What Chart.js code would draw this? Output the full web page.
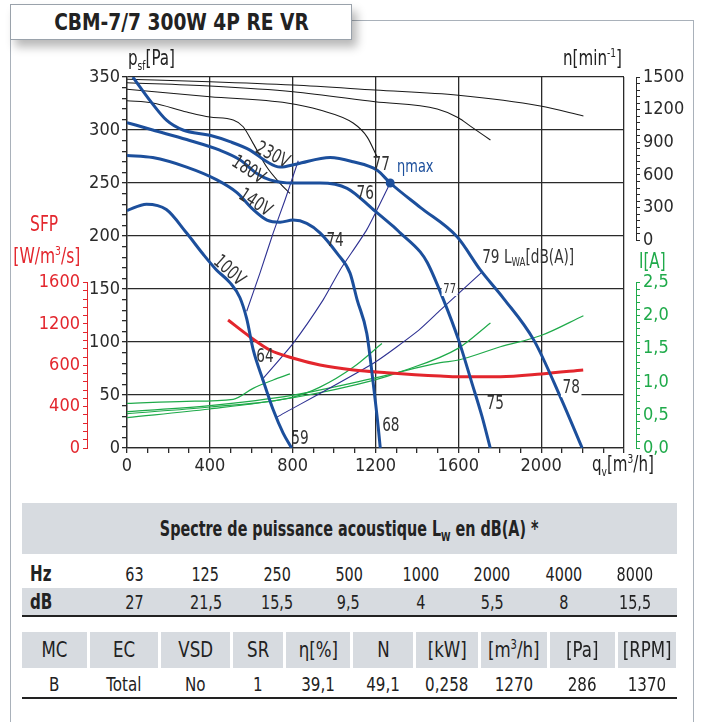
<!DOCTYPE html>
<html>
<head>
<meta charset="utf-8">
<script src="https://cdn.jsdelivr.net/npm/chart.js@4.4.0/dist/chart.umd.min.js"></script>
<style>
  body { margin: 0; background: #fff; width: 701px; height: 722px; overflow: hidden; position: relative;
         font-family: 'DejaVu Sans Condensed', 'Open Sans', sans-serif; color: #222; }
  .abs { position: absolute; white-space: nowrap; line-height: 1; font-size: 21px; }
  .sq { display: inline-block; transform: scaleX(0.8); transform-origin: left center; }
  .sqc { display: inline-block; transform: scaleX(0.82); transform-origin: center center; white-space: nowrap; }
  #frame { position: absolute; left: 10px; top: 20px; width: 682px; height: 760px; border: 1.5px solid #a9b1ba; }
  #title { position: absolute; left: 10px; top: 4px; width: 340px; height: 34px; background: #fff; border: 1px solid #9aa2ab;
           box-shadow: 5px 7px 9px rgba(0,0,0,0.28); font-weight: bold; font-size: 23px; text-align: center; line-height: 34px; }
  #chart { position: absolute; left: 0; top: 0; }
  sub, sup { font-size: 60%; line-height: 0; }
  .band { position: absolute; background: #d7dbe0; }
  .cell { position: absolute; text-align: center; font-size: 20px; line-height: 1; }
</style>
</head>
<body>
<div id="frame"></div>
<div id="title"><span class="sqc" style="transform:scaleX(0.9)">CBM-7/7 300W 4P RE VR</span></div>
<canvas id="chart" width="701" height="490"></canvas>

<div class="abs" style="left:128px;top:48px"><span class="sq">p<sub>sf</sub>[Pa]</span></div>
<div class="abs" style="left:563px;top:48px"><span class="sq">n[min<sup>-1</sup>]</span></div>
<div class="abs" style="left:4px;top:214px;width:80px;text-align:center;color:#e3262d"><span class="sqc">SFP</span></div>
<div class="abs" style="left:4px;top:246px;width:86px;text-align:center;color:#e3262d"><span class="sqc">[W/m<sup>3</sup>/s]</span></div>
<div class="abs" style="left:639px;top:251px;color:#1faa4a"><span class="sq">I[A]</span></div>
<div class="abs" style="left:592px;top:454px"><span class="sq">q<sub>v</sub>[m<sup>3</sup>/h]</span></div>

<div id="tables"></div>

<script>
// fan curves p_sf [Pa] against q_v [m3/h], one per supply voltage
const q230 = [28, 118, 192, 270, 400, 497, 594, 676, 739, 821, 981, 1092, 1208, 1271, 1416, 1595, 1706, 1819, 1964, 2093, 2198];
const p230 = [350, 326, 309, 300, 295, 289, 281, 270, 265, 268, 274, 270, 262, 250, 227, 199, 168, 141, 102, 48, 0];
const q180 = [0, 124, 288, 448, 545, 627, 690, 802, 932, 1063, 1189, 1286, 1319, 1416, 1450, 1528, 1601, 1666, 1714, 1754];
const p180 = [307, 300, 291, 281, 272, 259, 253, 250, 250, 245, 225, 209, 203, 185, 175, 140, 102, 61, 30, 0];
const q140 = [0, 124, 288, 434, 531, 609, 676, 739, 802, 868, 932, 1013, 1077, 1111, 1158, 1189, 1213, 1223];
const p140 = [276, 274, 265, 253, 241, 225, 215, 213, 215, 212, 203, 184, 165, 140, 108, 61, 20, 0];
const q100 = [0, 94, 190, 287, 367, 432, 497, 545, 578, 609, 657, 706, 754, 795];
const p100 = [224, 230, 225, 203, 183, 168, 156, 142, 122, 93, 64, 36, 14, 0];

// speed n [min-1]
const qn230 = [0, 400, 802, 1198, 1600, 1996, 2204];
const n230 = [1479, 1457, 1426, 1380, 1332, 1233, 1141];
const qn180 = [0, 400, 802, 1198, 1498, 1600, 1658, 1755];
const n180 = [1447, 1417, 1365, 1273, 1206, 1126, 1049, 921];
const qn140 = [0, 400, 773, 932, 1092, 1160, 1208];
const n140 = [1387, 1319, 1261, 1196, 1077, 948, 764];
const qn100 = [0, 124, 289, 400, 513, 561, 609, 674, 739, 787];
const n100 = [1282, 1261, 1178, 1132, 1105, 1043, 890, 675, 523, 431];

// current I [A]
const qi230 = [0, 400, 802, 1198, 1513, 1601, 1803, 1999, 2204];
const i230 = [0.55, 0.64, 0.80, 1.06, 1.29, 1.33, 1.53, 1.70, 2.00];
const qi180 = [0, 400, 802, 1198, 1319, 1601, 1755];
const i180 = [0.46, 0.59, 0.76, 1.03, 1.15, 1.51, 1.89];
const qi140 = [0, 400, 802, 932, 1092, 1231];
const i140 = [0.52, 0.62, 0.77, 0.92, 1.22, 1.58];
const qi100 = [0, 287, 513, 609, 706, 787];
const i100 = [0.675, 0.706, 0.736, 0.902, 1.028, 1.12];

// SFP (230V)
const qSfp = [488, 593, 690, 804, 932, 1094, 1255, 1513, 1603, 1803, 2001, 2203];
const sfp = [1238, 1077, 948, 868, 803, 755, 729, 697, 690, 690, 716, 755];

// system curves
const qs0 = [578, 642, 706, 763, 827];
const ps0 = [129, 165, 203, 234, 271];
const qs1 = [650, 803, 948, 1029, 1158, 1271];
const ps1 = [64, 99, 140, 168, 206, 250];
const qs2 = [723, 1190, 1408, 1513, 1714];
const ps2 = [29, 80, 111, 130, 166];

// best efficiency point
const qEta = [1271];
const pEta = [250];

// axis tick labels
const sfpTickLabels = {0: '0', 400: '400', 800: '600', 1200: '1200', 1600: '1600'};

// texts on the curves
const curveLabels = [
  {t: '230V', q: 702, p: 276, rot: 27},
  {t: '180V', q: 585, p: 262, rot: 33},
  {t: '140V', q: 618, p: 231, rot: 33},
  {t: '100V', q: 492, p: 167, rot: 42},
  {t: '77', q: 1228, p: 267},
  {t: 'ηmax', q: 1392, p: 265, color: '#1c4f9c', size: 18},
  {t: '76', q: 1150, p: 240},
  {t: '74', q: 1005, p: 195},
  {t: '64', q: 666, p: 86},
  {t: '59', q: 835, p: 8},
  {t: '68', q: 1274, p: 21},
  {t: '75', q: 1778, p: 41},
  {t: '78', q: 2145, p: 57, bg: true},
  {t: '77', q: 1558, p: 150, size: 14, bg: true}
];

// acoustic spectrum
const hzBands = ['63', '125', '250', '500', '1000', '2000', '4000', '8000'];
const dbValues = ['27', '21,5', '15,5', '9,5', '4', '5,5', '8', '15,5'];
// data sheet
const specHeads = ['MC', 'EC', 'VSD', 'SR', 'η[%]', 'N', '[kW]', '[m<sup>3</sup>/h]', '[Pa]', '[RPM]'];
const specValues = ['B', 'Total', 'No', '1', '39,1', '49,1', '0,258', '1270', '286', '1370'];

const FONT = "'DejaVu Sans Condensed', 'Open Sans', sans-serif";
const GRID = '#2a2a2a';
const BLUE = '#1c4f9c';
const NAVY = '#2e3192';
const GREEN = '#1faa4a';
const RED = '#e3262d';

Chart.defaults.font.family = FONT;
Chart.defaults.font.size = 18;
Chart.defaults.color = '#2a2a2a';

function pts(xs, ys) {
  return xs.map((v, i) => ({x: v, y: ys[i]}));
}

function curve(label, xs, ys, axis, color, width, extra) {
  return Object.assign({
    label: label,
    data: pts(xs, ys),
    yAxisID: axis,
    borderColor: color,
    backgroundColor: color,
    borderWidth: width,
    pointRadius: 0,
    fill: false,
    cubicInterpolationMode: 'monotone'
  }, extra || {});
}

// narrow look for the labels drawn inside the plot
const SQUEEZE = 0.8;

const labelPlugin = {
  id: 'curveLabels',
  afterDatasetsDraw(chart) {
    const ctx = chart.ctx;
    const sx = chart.scales.x, sy = chart.scales.y;
    curveLabels.forEach(l => {
      const size = l.size || 19;
      ctx.save();
      ctx.translate(sx.getPixelForValue(l.q), sy.getPixelForValue(l.p));
      ctx.rotate((l.rot || 0) * Math.PI / 180);
      ctx.scale(SQUEEZE, 1);
      ctx.font = size + 'px ' + FONT;
      ctx.textAlign = 'center';
      ctx.textBaseline = 'middle';
      if (l.bg) {
        const w = ctx.measureText(l.t).width;
        ctx.fillStyle = '#fff';
        ctx.fillRect(-w / 2 - 2, -size / 2, w + 4, size);
      }
      ctx.fillStyle = l.color || '#333';
      ctx.fillText(l.t, 0, 0);
      ctx.restore();
    });
    // sound power label with subscript
    ctx.save();
    ctx.translate(sx.getPixelForValue(1715), sy.getPixelForValue(179));
    ctx.scale(SQUEEZE, 1);
    ctx.fillStyle = '#333';
    ctx.textBaseline = 'middle';
    ctx.textAlign = 'left';
    let px = 0;
    ctx.font = '19px ' + FONT;
    ctx.fillText('79 L', px, 0);
    px += ctx.measureText('79 L').width;
    ctx.font = '12px ' + FONT;
    ctx.fillText('WA', px, 5);
    px += ctx.measureText('WA').width;
    ctx.font = '19px ' + FONT;
    ctx.fillText('[dB(A)]', px, 0);
    ctx.restore();
  }
};

function spacer(position, extra) {
  return Object.assign({
    type: 'linear', position: position, display: true,
    grid: {display: false}, ticks: {display: false}, border: {display: false}
  }, extra);
}

new Chart(document.getElementById('chart'), {
  type: 'line',
  data: {
    datasets: [
      curve('ηmax', qEta, pEta, 'y', BLUE, 0, {pointRadius: 4.5, showLine: false}),
      curve('230V', q230, p230, 'y', BLUE, 3),
      curve('180V', q180, p180, 'y', BLUE, 3),
      curve('140V', q140, p140, 'y', BLUE, 3),
      curve('100V', q100, p100, 'y', BLUE, 3),
      curve('SFP', qSfp, sfp, 'ySFP', RED, 3),
      curve('s0', qs0, ps0, 'y', NAVY, 1.1, {cubicInterpolationMode: 'default', tension: 0.2}),
      curve('s1', qs1, ps1, 'y', NAVY, 1.1, {cubicInterpolationMode: 'default', tension: 0.2}),
      curve('s2', qs2, ps2, 'y', NAVY, 1.1, {cubicInterpolationMode: 'default', tension: 0.2}),
      curve('I 230V', qi230, i230, 'yI', GREEN, 1.2),
      curve('I 180V', qi180, i180, 'yI', GREEN, 1.2),
      curve('I 140V', qi140, i140, 'yI', GREEN, 1.2),
      curve('I 100V', qi100, i100, 'yI', GREEN, 1.2),
      curve('n 230V', qn230, n230, 'yN', '#1a1a1a', 1.1),
      curve('n 180V', qn180, n180, 'yN', '#1a1a1a', 1.1),
      curve('n 140V', qn140, n140, 'yN', '#1a1a1a', 1.1),
      curve('n 100V', qn100, n100, 'yN', '#1a1a1a', 1.1)
    ]
  },
  options: {
    responsive: false,
    devicePixelRatio: 1,
    animation: false,
    layout: {padding: {top: 77, left: 40, right: 5, bottom: 12}},
    plugins: {legend: {display: false}, tooltip: {enabled: false}},
    scales: {
      x: {
        type: 'linear', position: 'bottom', min: 0, max: 2400,
        ticks: {stepSize: 100, autoSkip: false, maxRotation: 0, padding: 3,
                callback: v => (v % 400 === 0 && v < 2400) ? v : ''},
        grid: {color: c => (c.tick && c.tick.value % 400 === 0) ? GRID : 'rgba(0,0,0,0)',
               tickColor: GRID, tickLength: 5, lineWidth: 1.3},
        border: {color: GRID, width: 1.3},
        afterFit: s => { s.height = 30; }
      },
      ySFP: {
        type: 'linear', position: 'left', stack: 'L', stackWeight: 156, weight: 1, min: 0, max: 1600,
        ticks: {stepSize: 80, autoSkip: false, padding: 3, color: RED,
                callback: v => sfpTickLabels[v] !== undefined ? sfpTickLabels[v] : ''},
        grid: {drawOnChartArea: false, tickLength: 4, tickColor: RED},
        border: {color: RED, width: 1},
        afterFit: s => { s.width = 47; }
      },
      gapL: spacer('left', {stack: 'L', stackWeight: 194, weight: 1, afterFit: s => { s.width = 0; }}),
      y: {
        type: 'linear', position: 'left', weight: 0, min: 0, max: 350,
        ticks: {stepSize: 10, autoSkip: false, padding: 2,
                callback: v => v % 50 === 0 ? v : ''},
        grid: {color: c => (c.tick && c.tick.value % 50 === 0) ? GRID : 'rgba(0,0,0,0)',
               tickColor: GRID, tickLength: 5, lineWidth: 1.3},
        border: {color: GRID, width: 1.3},
        afterFit: s => { s.width = 40; }
      },
      padR: spacer('right', {weight: 0, afterFit: s => { s.width = 12; }}),
      yN: {
        type: 'linear', position: 'right', stack: 'R', stackWeight: 154, weight: 1, min: 0, max: 1500,
        ticks: {stepSize: 60, autoSkip: false, padding: 3,
                callback: v => v % 300 === 0 ? v : ''},
        grid: {drawOnChartArea: false, tickLength: 4, tickColor: GRID},
        border: {color: GRID, width: 1},
        afterFit: s => { s.width = 60; }
      },
      gapR: spacer('right', {stack: 'R', stackWeight: 40, weight: 1, afterFit: s => { s.width = 0; }}),
      yI: {
        type: 'linear', position: 'right', stack: 'R', stackWeight: 156, weight: 1, min: 0, max: 2.5,
        ticks: {stepSize: 0.1, autoSkip: false, padding: 3, color: GREEN,
                callback: v => Math.abs(v * 2 - Math.round(v * 2)) < 1e-6 ? v.toFixed(1).replace('.', ',') : ''},
        grid: {drawOnChartArea: false, tickLength: 4, tickColor: GREEN},
        border: {color: GREEN, width: 1},
        afterFit: s => { s.width = 60; }
      }
    }
  },
  plugins: [labelPlugin]
});

// tables under the chart
(function buildTables() {
  const root = document.getElementById('tables');
  const sq = (t, k) => '<span class="sqc" style="transform:scaleX(' + k + ')">' + t + '</span>';
  let html = '';
  html += '<div class="band" style="left:22px;top:503px;width:655px;height:51px"></div>';
  html += '<div class="cell" style="left:22px;top:519px;width:655px;font-size:21px;font-weight:bold">' +
          sq('Spectre de puissance acoustique L<sub>W</sub> en dB(A) *', 0.76) + '</div>';
  html += '<div class="band" style="left:22px;top:588px;width:655px;height:27px"></div>';
  html += '<div style="position:absolute;left:22px;top:615px;width:655px;height:1.5px;background:#222"></div>';
  html += '<div class="cell" style="left:30px;top:564px;text-align:left;font-weight:bold;font-size:21px">' +
          '<span class="sq">Hz</span></div>';
  html += '<div class="cell" style="left:30px;top:592px;text-align:left;font-weight:bold;font-size:21px">' +
          '<span class="sq">dB</span></div>';
  hzBands.forEach((h, i) => {
    const left = 98 + i * 71.6;
    html += '<div class="cell" style="left:' + left + 'px;top:564px;width:72px">' + sq(h, 0.8) + '</div>';
    html += '<div class="cell" style="left:' + left + 'px;top:592px;width:72px">' + sq(dbValues[i], 0.8) + '</div>';
  });
  const edges = [22, 90, 161, 233, 286, 353, 416, 481, 550, 618, 679];
  specHeads.forEach((h, i) => {
    const left = edges[i], w = edges[i + 1] - edges[i] - 3;
    html += '<div class="band" style="left:' + left + 'px;top:632px;width:' + w + 'px;height:36px"></div>';
    html += '<div class="cell" style="left:' + left + 'px;top:639px;width:' + w + 'px;font-size:22px">' + sq(h, 0.84) + '</div>';
    html += '<div class="cell" style="left:' + left + 'px;top:674px;width:' + w + 'px">' + sq(specValues[i], 0.84) + '</div>';
  });
  html += '<div style="position:absolute;left:22px;top:697px;width:655px;height:1.5px;background:#222"></div>';
  root.innerHTML = html;
})();
</script>
</body>
</html>
